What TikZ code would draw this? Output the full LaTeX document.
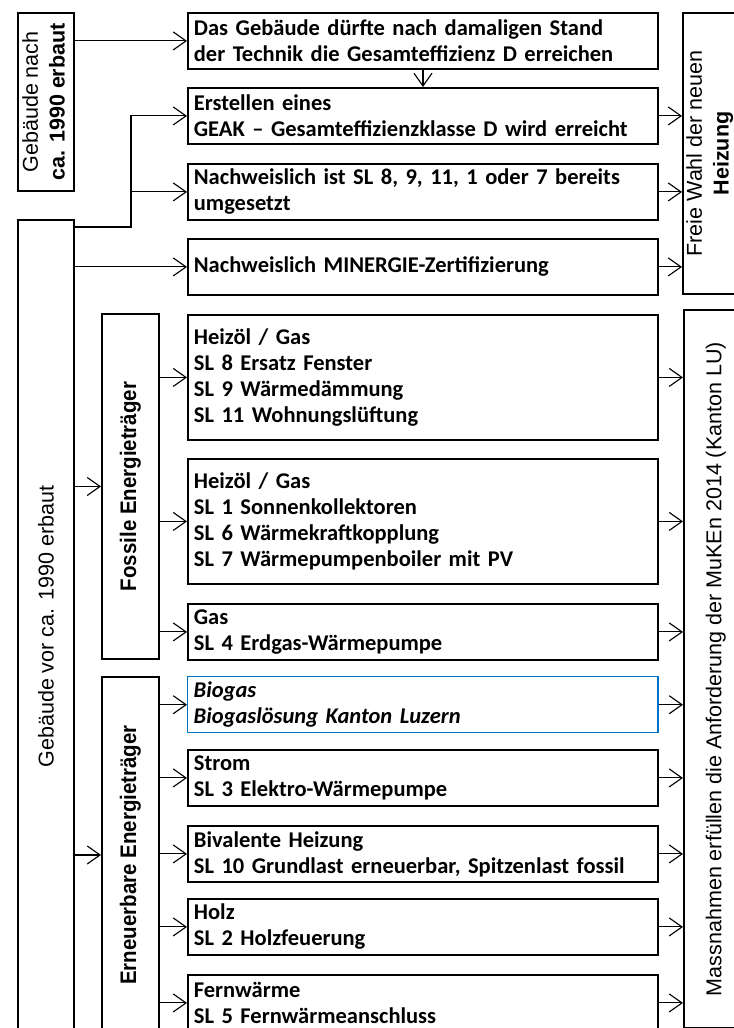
\documentclass[tikz,border=0pt]{standalone}
\usepackage{fontspec}
\usepackage{graphicx}
\setmainfont{Carlito}
\newfontfamily\arialfont{Liberation Sans}
\usetikzlibrary{arrows.meta}
\definecolor{biogasblau}{RGB}{0,114,198}

\tikzset{
  infobox/.style={draw, line width=1.3pt, anchor=north west, minimum width=11.75cm,
    minimum height=1.4cm, text width=11.45cm, inner xsep=0.15cm, align=left,
    font=\bfseries\fontsize{16}{18.5}\selectfont},
  sidebox/.style={draw, line width=1.3pt, anchor=north west, minimum width=1.4cm,
    inner sep=0pt, font=\arialfont\fontsize{15.3}{19}\selectfont},
  link/.style={line width=0.8pt, -{Straight Barb[length=0.32cm,width=0.45cm]}},
}
\newcommand{\schmal}[1]{\scalebox{0.91}[1]{\fontsize{16}{19}\selectfont\bfseries #1}}

\begin{document}
\begin{tikzpicture}[x=0.025cm,y=-0.025cm]
		%%%%% START %%%%%
		\useasboundingbox (0,0) rectangle (733,1028);
		
		% linke Spalte
		\node[sidebox, minimum height=4.45cm] (nach) at (17,12)
		  {\rotatebox{90}{\begin{tabular}{@{}c@{}}Gebäude nach\\\textbf{ca. 1990 erbaut}\end{tabular}}};
		\node[sidebox, minimum height=20.325cm] (vor) at (17,219)
		  {\rotatebox{90}{Gebäude vor ca. 1990 erbaut}};
		\node[sidebox, minimum width=1.425cm, minimum height=8.625cm] (fos) at (101,313)
		  {\rotatebox{90}{\schmal{Fossile Energieträger}}};
		\node[sidebox, minimum width=1.425cm, minimum height=8.9cm] (ern) at (101,676)
		  {\rotatebox{90}{\schmal{Erneuerbare Energieträger}}};
		
		% obere Kästen
		\node[infobox] (b1) at (187,12) {Das Gebäude dürfte nach damaligen Stand\\der Technik die Gesamteffizienz D erreichen};
		\node[infobox] (b2) at (187,87) {Erstellen eines\\GEAK -- Gesamteffizienzklasse D wird erreicht};
		\node[infobox] (b3) at (187,163) {Nachweislich ist SL 8, 9, 11, 1 oder 7 bereits\\umgesetzt};
		\node[infobox] (b4) at (187,238) {Nachweislich MINERGIE-Zertifizierung};
		
		% fossile Energieträger
		\node[infobox, minimum height=3.125cm] (fa) at (187,314) {Heizöl / Gas\\SL 8 Ersatz Fenster\\SL 9 Wärmedämmung\\SL 11 Wohnungslüftung};
		\node[infobox, minimum height=3.125cm] (fb) at (187,458) {Heizöl / Gas\\SL 1 Sonnenkollektoren\\SL 6 Wärmekraftkopplung\\SL 7 Wärmepumpenboiler mit PV};
		\node[infobox] (fc) at (187,603) {Gas\\SL 4 Erdgas-Wärmepumpe};
		
		% erneuerbare Energieträger
		\node[infobox, draw=biogasblau, line width=1pt] (ea) at (187,676) {\textit{Biogas}\\\textit{Biogaslösung Kanton Luzern}};
		\node[infobox] (eb) at (187,749) {Strom\\SL 3 Elektro-Wärmepumpe};
		\node[infobox] (ec) at (187,825) {Bivalente Heizung\\SL 10 Grundlast erneuerbar, Spitzenlast fossil};
		\node[infobox] (ed) at (187,898) {Holz\\SL 2 Holzfeuerung};
		\node[infobox] (ee) at (187,974) {Fernwärme\\SL 5 Fernwärmeanschluss};
		
		% rechte Spalte
		\node[sidebox, minimum width=1.35cm, minimum height=7.025cm] (frei) at (682,12)
		  {\rotatebox{90}{\begin{tabular}{@{}c@{}}Freie Wahl der neuen\\\textbf{Heizung}\end{tabular}}};
		\node[sidebox, minimum width=1.6cm, minimum height=17.95cm] (mass) at (683,309)
		  {\rotatebox{90}{Massnahmen erfüllen die Anforderung der MuKEn 2014 (Kanton LU)}};
		
		% Pfeile
		\coordinate (knick) at (131,227);
		\draw[link] (nach.east |- b1.west) -- (b1.west);
		\draw[link] (b1.south) -- (b2.north);
		\draw[link] (vor.north east |- knick) -- (knick) -- (knick |- b2.west) -- (b2.west);
		\draw[link] (knick |- b3.west) -- (b3.west);
		\draw[link] (vor.east |- b4.west) -- (b4.west);
		\foreach \n in {b2,b3,b4}
		  \draw[link] (\n.east) -- (\n.east -| frei.west);
		
		\draw[link] (vor.east |- fos.west) -- (fos.west);
		\draw[link] (vor.east |- ern.west) -- (ern.west);
		\foreach \n in {fa,fb,fc} {
		  \draw[link] (fos.east |- \n.west) -- (\n.west);
		  \draw[link] (\n.east) -- (\n.east -| mass.west);
		}
		\foreach \n in {ea,eb,ec,ed,ee} {
		  \draw[link] (ern.east |- \n.west) -- (\n.west);
		  \draw[link] (\n.east) -- (\n.east -| mass.west);
		}
		%%%%% END %%%%%
\end{tikzpicture}
\end{document}
